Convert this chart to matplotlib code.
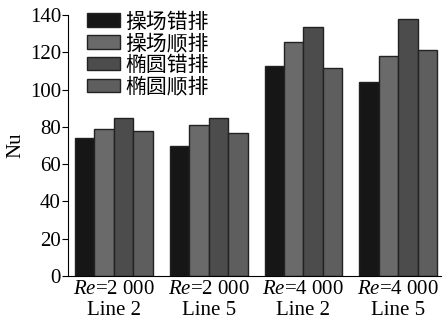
import numpy as np
import matplotlib as mpl
import matplotlib.pyplot as plt

mpl.rcParams.update({
    "font.family": ["Liberation Serif", "Noto Sans CJK SC"],
    "font.size": 15,
    "mathtext.fontset": "custom",
    "mathtext.rm": "Liberation Serif",
    "mathtext.it": "Liberation Serif:italic",
})

# Nu for each case, one list per arrangement
groups = ["$\\mathit{Re}$=2 000\nLine 2", "$\\mathit{Re}$=2 000\nLine 5",
          "$\\mathit{Re}$=4 000\nLine 2", "$\\mathit{Re}$=4 000\nLine 5"]
series = ["操场错排", "操场顺排", "椭圆错排", "椭圆顺排"]
playground_staggered = [73.8, 69.6, 112.8, 104.2]
playground_inline = [79.1, 81.1, 125.7, 118.2]
ellipse_staggered = [84.5, 84.5, 133.8, 137.9]
ellipse_inline = [77.9, 76.8, 111.7, 121.4]
values = [playground_staggered, playground_inline, ellipse_staggered, ellipse_inline]
colors = ["#161616", "#6a6a6a", "#4c4c4c", "#5e5e5e"]

fig = plt.figure(figsize=(4.44, 3.28), dpi=100)
ax = fig.add_axes([0.153, 0.159, 0.84, 0.795])

x = np.arange(len(groups))
w = 0.205
for i, (name, vals, c) in enumerate(zip(series, values, colors)):
    ax.bar(x + (i - 1.5) * w, vals, w, color=c, edgecolor="#222222",
           linewidth=1.0, label=name)

ax.set_xlim(-0.485, 3.45)
ax.set_ylim(0, 140)
ax.set_yticks(range(0, 141, 20))
ax.set_xticks(x)
ax.set_xticklabels(groups, linespacing=1.12)
ax.tick_params(axis="x", length=0, pad=3, labelsize=15)
ax.tick_params(axis="y", direction="out", length=4, labelsize=15, pad=1)
ax.set_ylabel("Nu", fontsize=15, labelpad=3)
for s in ("top", "right"):
    ax.spines[s].set_visible(False)

ax.legend(loc="upper left", bbox_to_anchor=(0.03, 1.04), frameon=False,
          handlelength=1.55, handleheight=0.6, handletextpad=0.25,
          labelspacing=0.1, fontsize=15, borderaxespad=0)

fig.savefig("out.png", dpi=100)
